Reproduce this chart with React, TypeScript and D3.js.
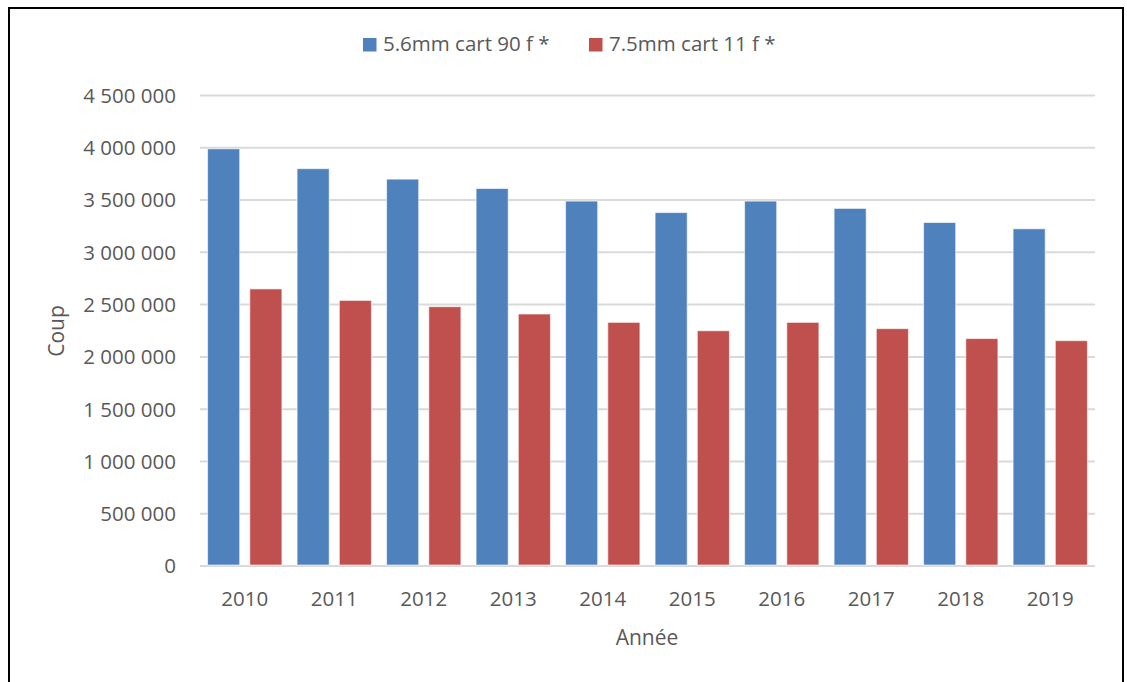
import React from "react";
import * as d3 from "d3";

// years on the x axis
const years = ["2010", "2011", "2012", "2013", "2014", "2015", "2016", "2017", "2018", "2019"];
const seriesNames = ["5.6mm cart 90 f *", "7.5mm cart 11 f *"];
// values
const cart56 = [3990000, 3800000, 3700000, 3610000, 3490000, 3380000, 3490000, 3420000, 3285000, 3225000];
const cart75 = [2650000, 2540000, 2480000, 2410000, 2330000, 2250000, 2330000, 2270000, 2175000, 2155000];
const yTicks = [0, 500000, 1000000, 1500000, 2000000, 2500000, 3000000, 3500000, 4000000, 4500000];
const colors = ["#4F81BD", "#C0504D"];

const fmt = (v: number) => d3.format(",")(v).replace(/,/g, " ");

export default function App() {
  const width = 1127;
  const height = 682;
  const margins = { top: 95.5, right: 32, bottom: 116, left: 200 };
  const font = "'Open Sans', 'DejaVu Sans', sans-serif";

  const xScale = d3.scaleBand()
    .domain(years)
    .range([margins.left, width - margins.right])
    .padding(0);

  // position of the two bars inside each year
  const xInner = d3.scaleBand()
    .domain(seriesNames)
    .range([0, xScale.bandwidth()])
    .paddingInner(0.24)
    .paddingOuter(0.18);

  const yScale = d3.scaleLinear()
    .domain([0, 4500000])
    .range([height - margins.bottom, margins.top]);

  const series = [cart56, cart75];

  return (
    <svg width={width} height={height} style={{ position: "absolute", left: 0, top: 0 }} fontFamily={font}>
      <rect x={0} y={0} width={width} height={height} fill="#fff" />
      <rect x={9} y={8} width={1114} height={700} fill="none" stroke="#000" strokeWidth={2} />

      {/* grid */}
      {yTicks.map(t => (
        <line key={t} x1={margins.left} x2={width - margins.right}
          y1={yScale(t)} y2={yScale(t)} stroke="#D9D9D9" strokeWidth={2} />
      ))}

      {/* bars */}
      {series.map((vals, si) => vals.map((v, i) => (
        <rect key={si + "-" + i}
          x={(xScale(years[i]) as number) + (xInner(seriesNames[si]) as number)}
          y={yScale(v)}
          width={xInner.bandwidth()}
          height={yScale(0) - yScale(v) - 1}
          fill={colors[si]}
          stroke="#fff" strokeOpacity={0.6} strokeWidth={1} />
      )))}

      {/* y tick labels */}
      {yTicks.map(t => (
        <text key={t} x={176} y={yScale(t)} dy="0.36em" textAnchor="end"
          fontSize={20.5} fill="#595959">{fmt(t)}</text>
      ))}

      {/* x tick labels */}
      {years.map(y => (
        <text key={y} x={(xScale(y) as number) + xScale.bandwidth() / 2} y={606}
          textAnchor="middle" fontSize={20.5} fill="#595959">{y}</text>
      ))}

      {/* axis titles */}
      <text x={647} y={645} textAnchor="middle" fontSize={21} fill="#595959">Année</text>
      <text transform="translate(64,331) rotate(-90)" textAnchor="middle" fontSize={21} fill="#595959">Coup</text>

      {/* legend */}
      {seriesNames.map((name, i) => {
        const lx = [363, 589][i];
        return (
          <g key={name}>
            <rect x={lx} y={38} width={13.5} height={13.5} fill={colors[i]} />
            <text x={lx + 20} y={51} fontSize={20.5} fill="#595959">{name}</text>
          </g>
        );
      })}
    </svg>
  );
}
